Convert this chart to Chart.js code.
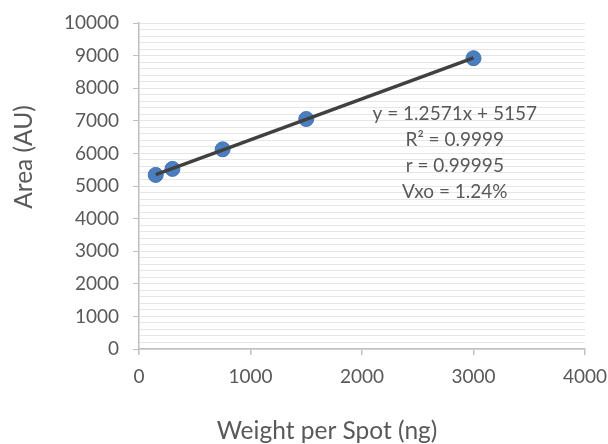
<!DOCTYPE html>
<html>
<head>
<meta charset="utf-8">
<script src="https://cdn.jsdelivr.net/npm/chart.js@4"></script>
<style>
  html, body { margin: 0; padding: 0; background: #fff; }
  #wrap { width: 608px; height: 444px; }
</style>
</head>
<body>
<div id="wrap"><canvas id="calChart" width="608" height="444"></canvas></div>
<script>
// calibration data
const weightNg = [150, 300, 750, 1500, 3000];
const areaAU = [5340, 5525, 6125, 7055, 8920];

// trendline ends (y = 1.2571x + 5157)
const trendX = [150, 3000];
const trendY = [5346, 8928];

const xTickValues = [0, 1000, 2000, 3000, 4000];
const yMax = 10000;
const yMinorStep = 200;

const equationLines = ['y = 1.2571x + 5157', 'R\u00b2 = 0.9999', 'r = 0.99995', 'Vxo = 1.24%'];
const xTitle = 'Weight per Spot (ng)';
const yTitle = 'Area (AU)';

const textGray = '#595959';
const fontName = 'Lato, "Open Sans", sans-serif';

const points = weightNg.map((x, i) => ({ x: x, y: areaAU[i] }));
const trend = trendX.map((x, i) => ({ x: x, y: trendY[i] }));

// draws the fit text and the two axis titles
const textPlugin = {
  id: 'textPlugin',
  afterDraw(chart) {
    const ctx = chart.ctx;
    const area = chart.chartArea;
    ctx.save();
    ctx.fillStyle = textGray;
    ctx.textAlign = 'center';
    ctx.textBaseline = 'alphabetic';

    ctx.font = '19px ' + fontName;
    const cx = area.left + (area.right - area.left) * 0.708;
    let y = area.top + 97;
    equationLines.forEach(line => {
      ctx.fillText(line, cx, y);
      y += 26;
    });

    ctx.font = '24.5px ' + fontName;
    ctx.textBaseline = 'middle';
    ctx.fillText(xTitle, 327, 431);

    ctx.translate(24, 157);
    ctx.rotate(-Math.PI / 2);
    ctx.fillText(yTitle, 0, 0);
    ctx.restore();
  }
};

new Chart(document.getElementById('calChart').getContext('2d'), {
  type: 'scatter',
  data: {
    datasets: [{
      type: 'line',
      label: 'Linear fit',
      data: trend,
      borderColor: '#404040',
      borderWidth: 3.5,
      pointRadius: 0,
      fill: false,
      order: 0
    }, {
      label: 'Area',
      data: points,
      backgroundColor: '#4a7ebf',
      borderColor: '#4273b0',
      borderWidth: 1,
      pointRadius: 7.5,
      order: 1
    }]
  },
  options: {
    responsive: false,
    animation: false,
    layout: { padding: { top: 23, right: 23, left: 0, bottom: 0 } },
    plugins: {
      legend: { display: false },
      tooltip: { enabled: false }
    },
    scales: {
      x: {
        type: 'linear',
        min: 0,
        max: 4000,
        afterFit(scale) {
          scale.height = 95;
          scale.paddingLeft = 0;
          scale.paddingRight = 0;
        },
        afterBuildTicks(scale) { scale.ticks = xTickValues.map(v => ({ value: v })); },
        border: { color: '#bfbfbf', width: 1.5 },
        grid: {
          drawOnChartArea: false,
          drawTicks: true,
          tickLength: 6,
          color: '#bfbfbf',
          tickColor: '#bfbfbf',
          lineWidth: 1.5
        },
        ticks: {
          color: textGray,
          padding: 10,
          font: { family: fontName, size: 19 },
          callback: v => String(v)
        }
      },
      y: {
        min: 0,
        max: yMax,
        afterFit(scale) {
          scale.width = 139;
          scale.paddingTop = 0;
          scale.paddingBottom = 0;
        },
        border: { color: '#bfbfbf', width: 1.5 },
        grid: {
          color: '#e6e6e6',
          lineWidth: 1,
          tickLength: 6,
          tickColor: ctx => (ctx.tick && ctx.tick.value % 1000 === 0) ? '#bfbfbf' : 'rgba(0,0,0,0)'
        },
        ticks: {
          stepSize: yMinorStep,
          autoSkip: false,
          color: textGray,
          padding: 14,
          font: { family: fontName, size: 19 },
          callback: v => (v % 1000 === 0 ? String(v) : '')
        }
      }
    }
  },
  plugins: [textPlugin]
});
</script>
</body>
</html>
